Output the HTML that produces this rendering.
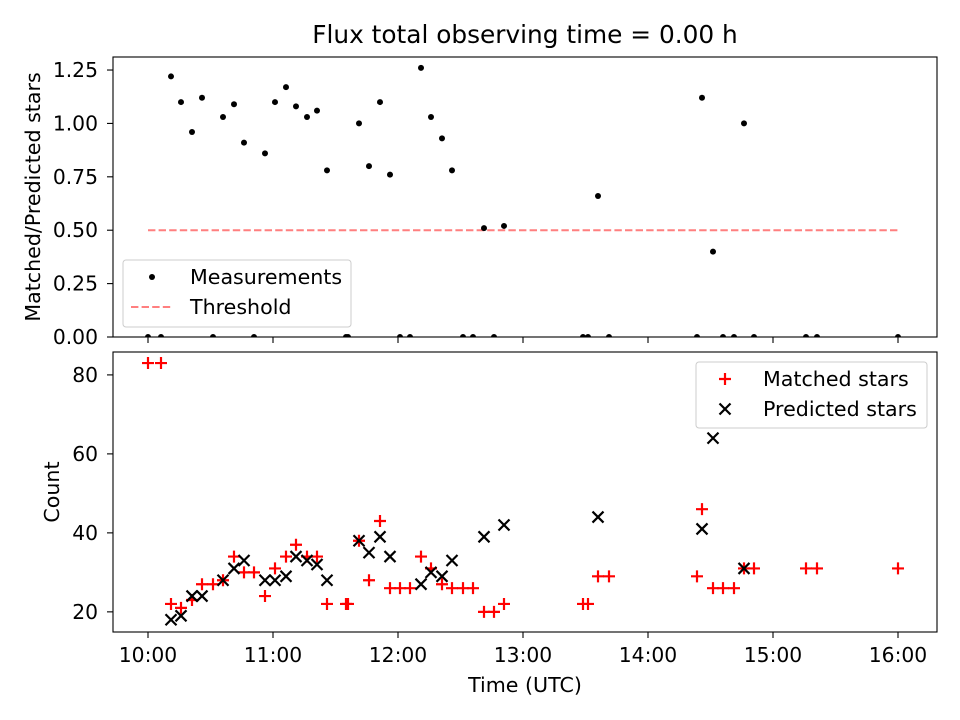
<!DOCTYPE html>
<html><head><meta charset="utf-8"><style>
body{margin:0;background:#fff}
svg{display:block;font-family:"DejaVu Sans","Liberation Sans",sans-serif}
</style></head><body>
<svg id="c" width="960" height="720" viewBox="0 0 960 720"></svg>
<script>
const times=[10.00,10.104,10.184,10.264,10.352,10.432,10.52,10.60,10.688,10.768,10.848,10.936,11.016,11.104,11.184,11.272,11.352,11.432,11.584,11.60,11.688,11.768,11.856,11.936,12.016,12.096,12.184,12.264,12.352,12.432,12.52,12.60,12.688,12.768,12.848,13.48,13.52,13.60,13.688,14.392,14.432,14.52,14.60,14.688,14.768,14.848,15.264,15.352,16.00];
const ratios=[0,0,1.22,1.10,0.96,1.12,0,1.03,1.09,0.91,0,0.86,1.10,1.17,1.08,1.03,1.06,0.78,0,0,1.0,0.80,1.10,0.76,0,0,1.26,1.03,0.93,0.78,0,0,0.51,0,0.52,0,0,0.66,0,0,1.12,0.40,0,0,1.0,0,0,0,0];
const matched=[83,83,22,21,23,27,27,28,34,30,30,24,31,34,37,34,34,22,22,22,38,28,43,26,26,26,34,31,27,26,26,26,20,20,22,22,22,29,29,29,46,26,26,26,31,31,31,31,31];
const predicted=[null,null,18,19,24,24,null,28,31,33,null,28,28,29,34,33,32,28,null,null,38,35,39,34,null,null,27,30,29,33,null,null,39,null,42,null,null,44,null,null,41,64,null,null,31,null,null,null,null];
const threshold=0.5;
const xTicks=[10,11,12,13,14,15,16];
const xTickLabels=["10:00","11:00","12:00","13:00","14:00","15:00","16:00"];
const topTicks=[0,0.25,0.5,0.75,1.0,1.25];
const topTickLabels=["0.00","0.25","0.50","0.75","1.00","1.25"];
const botTicks=[20,40,60,80];

const svg=document.getElementById('c');
const NS='http://www.w3.org/2000/svg';
function mk(t,a,p){const e=document.createElementNS(NS,t);for(const k in a)e.setAttribute(k,a[k]);(p||svg).appendChild(e);return e;}
const L=113,R=937;
const X=v=>L+(v-9.72)/(16.312-9.72)*(R-L);
const T1=57,B1=337,T2=352,B2=632;
const Y1=v=>B1-(v-0)/(1.311-0)*(B1-T1);
const Y2=v=>B2-(v-14.9)/(85.8-14.9)*(B2-T2);
const LF=20.6, TF=20.3, TL=6;

const defs=mk('defs',{});
const cp1=mk('clipPath',{id:'cp1'},defs);mk('rect',{x:L,y:T1,width:R-L,height:B1-T1},cp1);
const cp2=mk('clipPath',{id:'cp2'},defs);mk('rect',{x:L,y:T2,width:R-L,height:B2-T2},cp2);

let t=mk('text',{x:525,y:43,'font-size':24.8,'text-anchor':'middle'});t.textContent='Flux total observing time = 0.00 h';



const g1=mk('g',{'clip-path':'url(#cp1)'});


let th=mk('line',{x1:X(times[0]),x2:X(times[times.length-1]),y1:Y1(threshold),y2:Y1(threshold),stroke:'#ff7f7f','stroke-width':2,'stroke-dasharray':'7.4,3.2'},g1);


times.forEach((tm,i)=>{
  const c=mk('circle',{cx:X(tm),cy:Y1(ratios[i]),r:3,fill:'#000'},g1);
  
  
});
const g2=mk('g',{'clip-path':'url(#cp2)'});


times.forEach((tm,i)=>{
  const x=X(tm),y=Y2(matched[i]);
  const p=mk('path',{d:`M${x-6},${y}H${x+6}M${x},${y-6}V${y+6}`,stroke:'#ff0000','stroke-width':2.2,fill:'none'},g2);
  
  
});
times.forEach((tm,i)=>{
  if(predicted[i]==null)return;
  const x=X(tm),y=Y2(predicted[i]);
  const p=mk('path',{d:`M${x-5.5},${y-5.5}L${x+5.5},${y+5.5}M${x-5.5},${y+5.5}L${x+5.5},${y-5.5}`,stroke:'#000','stroke-width':2.2,fill:'none'},g2);
  
  
});

[[T1,B1],[T2,B2]].forEach(([a,b],k)=>{
  const r=mk('rect',{x:L,y:a,width:R-L,height:b-a,fill:'none',stroke:'#000','stroke-width':1.1});
  
  
});
xTicks.forEach((v,i)=>{
  const x=X(v);
  mk('line',{x1:x,x2:x,y1:B1,y2:B1+TL,stroke:'#000','stroke-width':1.1});
  mk('line',{x1:x,x2:x,y1:B2,y2:B2+TL,stroke:'#000','stroke-width':1.1});
  const tx=mk('text',{x:x,y:B2+30,'font-size':TF,'text-anchor':'middle'});tx.textContent=xTickLabels[i];
  
  
});
topTicks.forEach((v,i)=>{
  const y=Y1(v);
  mk('line',{x1:L-TL,x2:L,y1:y,y2:y,stroke:'#000','stroke-width':1.1});
  const tx=mk('text',{x:L-15,y:y+7,'font-size':TF,'text-anchor':'end'});tx.textContent=topTickLabels[i];
  
  
});
botTicks.forEach(v=>{
  const y=Y2(v);
  mk('line',{x1:L-TL,x2:L,y1:y,y2:y,stroke:'#000','stroke-width':1.1});
  const tx=mk('text',{x:L-15,y:y+7,'font-size':TF,'text-anchor':'end'});tx.textContent=String(v);
  
  
});
t=mk('text',{x:525,y:692,'font-size':LF,'text-anchor':'middle'});t.textContent='Time (UTC)';


t=mk('text',{x:40,y:197,'font-size':LF,'text-anchor':'middle',transform:'rotate(-90 40 197)'});t.textContent='Matched/Predicted stars';


t=mk('text',{x:59,y:492,'font-size':LF,'text-anchor':'middle',transform:'rotate(-90 59 492)'});t.textContent='Count';



const lg1=mk('g',{});


mk('rect',{x:123,y:260,width:228,height:67,rx:3,fill:'#fff','fill-opacity':0.8,stroke:'#ccc'},lg1);
mk('circle',{cx:152,cy:277,r:3,fill:'#000'},lg1);
t=mk('text',{x:190,y:284,'font-size':LF},lg1);t.textContent='Measurements';
mk('line',{x1:131,x2:173,y1:307,y2:307,stroke:'#ff7f7f','stroke-width':2,'stroke-dasharray':'7.4,3.2'},lg1);
t=mk('text',{x:190,y:314,'font-size':LF},lg1);t.textContent='Threshold';
const lg2=mk('g',{});


mk('rect',{x:696,y:362,width:231,height:66,rx:3,fill:'#fff','fill-opacity':0.8,stroke:'#ccc'},lg2);
mk('path',{d:'M719,379H731M725,373V385',stroke:'#ff0000','stroke-width':2.2},lg2);
t=mk('text',{x:763,y:386,'font-size':LF},lg2);t.textContent='Matched stars';
mk('path',{d:'M719.5,403.5L730.5,414.5M719.5,414.5L730.5,403.5',stroke:'#000','stroke-width':2.2},lg2);
t=mk('text',{x:763,y:416,'font-size':LF},lg2);t.textContent='Predicted stars';
</script>
</body></html>
